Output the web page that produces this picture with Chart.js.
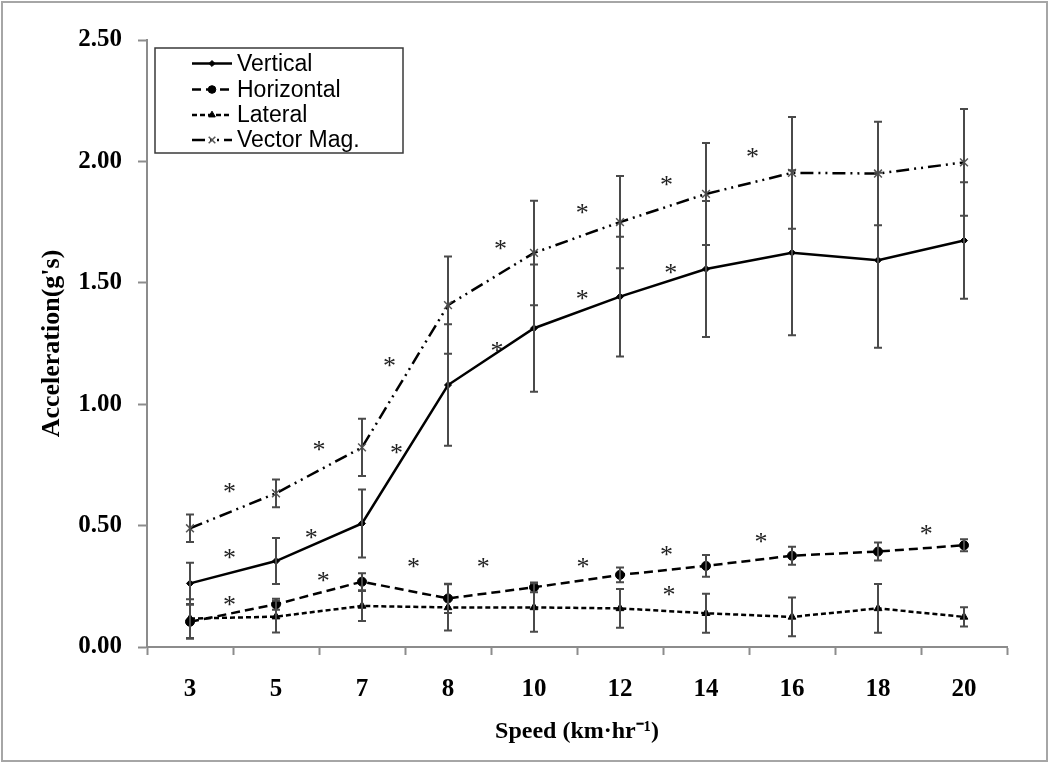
<!DOCTYPE html>
<html>
<head>
<meta charset="utf-8">
<style>
  html, body { margin: 0; padding: 0; background: #fff; }
  #wrap { width: 1050px; height: 765px; position: relative; }
</style>
<script src="https://cdn.jsdelivr.net/npm/chart.js@4.4.1/dist/chart.umd.min.js"></script>
</head>
<body>
<div id="wrap"><canvas id="c" width="1050" height="765"></canvas></div>
<script>
// ---- Data ----
const categories = ['3', '5', '7', '8', '10', '12', '14', '16', '18', '20'];
const vertical      = [0.262, 0.354, 0.509, 1.079, 1.313, 1.443, 1.557, 1.624, 1.593, 1.674];
const verticalErr   = [0.085, 0.095, 0.140, 0.250, 0.262, 0.247, 0.280, 0.340, 0.360, 0.240];
const horizontal    = [0.104, 0.176, 0.269, 0.200, 0.246, 0.297, 0.334, 0.376, 0.393, 0.419];
const horizontalErr = [0.070, 0.023, 0.035, 0.060, 0.020, 0.030, 0.045, 0.037, 0.037, 0.025];
const lateral       = [0.117, 0.125, 0.169, 0.163, 0.163, 0.159, 0.139, 0.124, 0.159, 0.124];
const lateralErr    = [0.080, 0.065, 0.062, 0.095, 0.100, 0.080, 0.080, 0.080, 0.100, 0.040];
const vectorMag     = [0.489, 0.633, 0.822, 1.408, 1.623, 1.750, 1.866, 1.953, 1.950, 1.996];
const vectorMagErr  = [0.057, 0.057, 0.118, 0.200, 0.215, 0.190, 0.210, 0.230, 0.213, 0.220];

const yTicks = [0, 0.5, 1.0, 1.5, 2.0, 2.5];

// significance markers: [category position (fractional index), value]
const vectorStars     = [[0.46, 0.663], [1.50, 0.836], [2.32, 1.182], [3.61, 1.664], [4.56, 1.812], [5.54, 1.927], [6.54, 2.039]];
const verticalStars   = [[0.46, 0.390], [1.41, 0.472], [2.40, 0.821], [3.57, 1.240], [4.56, 1.457], [5.59, 1.564]];
const horizontalStars = [[0.46, 0.194], [1.55, 0.294], [2.60, 0.351], [3.41, 0.351], [4.57, 0.351], [5.54, 0.402], [6.64, 0.454], [8.56, 0.490]];
const lateralStars    = [[5.57, 0.238]];

const seriesNames = ['Vertical', 'Horizontal', 'Lateral', 'Vector Mag.'];
const xTitle = 'Speed (km\u00B7hr\u207B\u00B9)';
const yTitle = "Acceleration(g's)";

// ---- Plugins ----
const framePlugin = {
  id: 'frame',
  beforeDraw(chart) {
    const ctx = chart.ctx;
    ctx.save();
    ctx.fillStyle = '#fff';
    ctx.fillRect(0, 0, chart.width, chart.height);
    ctx.strokeStyle = '#a6a6a6';
    ctx.lineWidth = 2;
    ctx.strokeRect(2, 2, chart.width - 5, chart.height - 6);
    ctx.restore();
  }
};

const errorBarPlugin = {
  id: 'errorBars',
  afterDatasetsDraw(chart) {
    const ctx = chart.ctx;
    const xs = chart.scales.x, ys = chart.scales.y;
    ctx.save();
    ctx.strokeStyle = '#4a4a4a';
    ctx.lineWidth = 2;
    chart.data.datasets.forEach(ds => {
      if (!ds.errors) return;
      ds.data.forEach((v, i) => {
        const e = ds.errors[i];
        const x = xs.getPixelForValue(i);
        const y1 = ys.getPixelForValue(v + e);
        const y2 = ys.getPixelForValue(Math.max(0, v - e));
        ctx.beginPath();
        ctx.moveTo(x, y1); ctx.lineTo(x, y2);
        ctx.moveTo(x - 4, y1); ctx.lineTo(x + 4, y1);
        ctx.moveTo(x - 4, y2); ctx.lineTo(x + 4, y2);
        ctx.stroke();
      });
    });
    ctx.restore();
  }
};

const starPlugin = {
  id: 'stars',
  afterDatasetsDraw(chart) {
    const ctx = chart.ctx;
    const xs = chart.scales.x, ys = chart.scales.y;
    const fs = 26;
    ctx.save();
    ctx.fillStyle = '#222';
    ctx.font = fs + 'px "Liberation Serif", "Times New Roman", serif';
    ctx.textAlign = 'center';
    ctx.textBaseline = 'alphabetic';
    [vectorStars, verticalStars, horizontalStars, lateralStars].forEach(arr => {
      arr.forEach(([xi, v]) => {
        ctx.fillText('*', xs.getPixelForValue(xi), ys.getPixelForValue(v) + 0.52 * fs);
      });
    });
    ctx.restore();
  }
};

const legendPlugin = {
  id: 'boxLegend',
  afterDraw(chart) {
    const ctx = chart.ctx;
    const left = 155, top = 48, w = 248, h = 105;
    ctx.save();
    ctx.fillStyle = '#fff';
    ctx.fillRect(left, top, w, h);
    ctx.strokeStyle = '#3a3a3a';
    ctx.lineWidth = 1.5;
    ctx.strokeRect(left, top, w, h);
    const rowY = [63.5, 89.5, 115, 140];
    chart.data.datasets.forEach((ds, i) => {
      const y = rowY[i];
      ctx.save();
      ctx.strokeStyle = ds.borderColor;
      ctx.lineWidth = 2.5;
      ctx.setLineDash(ds.borderDash || []);
      ctx.beginPath();
      ctx.moveTo(192, y); ctx.lineTo(232, y);
      ctx.stroke();
      ctx.restore();
      ctx.save();
      ctx.fillStyle = ds.pointBackgroundColor;
      ctx.strokeStyle = ds.pointBorderColor;
      ctx.lineWidth = ds.pointBorderWidth || 1;
      Chart.helpers.drawPoint(ctx, {
        pointStyle: ds.pointStyle, radius: ds.pointRadius * 0.85, borderWidth: ds.pointBorderWidth || 1, rotation: 0
      }, 212, y);
      ctx.restore();
      ctx.fillStyle = '#000';
      ctx.font = '23px "Liberation Sans", Arial, sans-serif';
      ctx.textAlign = 'left';
      ctx.textBaseline = 'middle';
      ctx.fillText(ds.label, 237, y + 1);
    });
    ctx.restore();
  }
};

// ---- Chart ----
const axisGrey = '#8c8c8c';
const serif = '"Liberation Serif", "Times New Roman", serif';

new Chart(document.getElementById('c'), {
  type: 'line',
  data: {
    labels: categories,
    datasets: [
      {
        label: seriesNames[0], data: vertical, errors: verticalErr,
        borderColor: '#000', backgroundColor: '#000', borderWidth: 2.5,
        pointStyle: 'rectRot', pointRadius: 3.5, pointBorderWidth: 1,
        pointBackgroundColor: '#000', pointBorderColor: '#000', tension: 0
      },
      {
        label: seriesNames[1], data: horizontal, errors: horizontalErr,
        borderColor: '#000', backgroundColor: '#000', borderWidth: 2.5, borderDash: [9, 5],
        pointStyle: 'circle', pointRadius: 4.5, pointBorderWidth: 1,
        pointBackgroundColor: '#000', pointBorderColor: '#000', tension: 0
      },
      {
        label: seriesNames[2], data: lateral, errors: lateralErr,
        borderColor: '#000', backgroundColor: '#000', borderWidth: 2.5, borderDash: [5, 3],
        pointStyle: 'triangle', pointRadius: 4.5, pointBorderWidth: 1,
        pointBackgroundColor: '#000', pointBorderColor: '#000', tension: 0
      },
      {
        label: seriesNames[3], data: vectorMag, errors: vectorMagErr,
        borderColor: '#000', backgroundColor: '#555', borderWidth: 2.5, borderDash: [13, 5, 2, 5, 2, 5],
        pointStyle: 'crossRot', pointRadius: 5.5, pointBorderWidth: 1.5,
        pointBackgroundColor: '#555', pointBorderColor: '#555', tension: 0
      }
    ]
  },
  options: {
    responsive: false,
    animation: false,
    layout: { padding: { left: 0, top: 40, right: 43, bottom: 0 } },
    plugins: {
      legend: { display: false },
      tooltip: { enabled: false }
    },
    scales: {
      x: {
        type: 'category',
        offset: true,
        grid: {
          offset: true, drawOnChartArea: false, drawTicks: true,
          tickLength: 8, tickColor: axisGrey, tickWidth: 2
        },
        border: { display: true, color: axisGrey, width: 2 },
        ticks: {
          color: '#000', padding: 20,
          font: { family: serif, size: 25, weight: 'bold' }
        },
        title: {
          display: true, text: xTitle, color: '#000',
          font: { family: serif, size: 24, weight: 'bold' },
          padding: { top: 0, bottom: 19 }
        },
        afterFit(scale) { scale.height = 118; }
      },
      y: {
        min: 0, max: 2.5,
        afterBuildTicks(scale) { scale.ticks = yTicks.map(v => ({ value: v })); },
        grid: {
          drawOnChartArea: false, drawTicks: true,
          tickLength: 9, tickColor: axisGrey, tickWidth: 2
        },
        border: { display: true, color: axisGrey, width: 2 },
        ticks: {
          color: '#000', padding: 16,
          font: { family: serif, size: 25, weight: 'bold' },
          callback: v => Number(v).toFixed(2)
        },
        title: {
          display: true, text: yTitle, color: '#000',
          font: { family: serif, size: 26, weight: 'bold' },
          padding: { top: 37, bottom: 0 }
        },
        afterFit(scale) { scale.width = 147; }
      }
    }
  },
  plugins: [framePlugin, errorBarPlugin, starPlugin, legendPlugin]
});
</script>
</body>
</html>
